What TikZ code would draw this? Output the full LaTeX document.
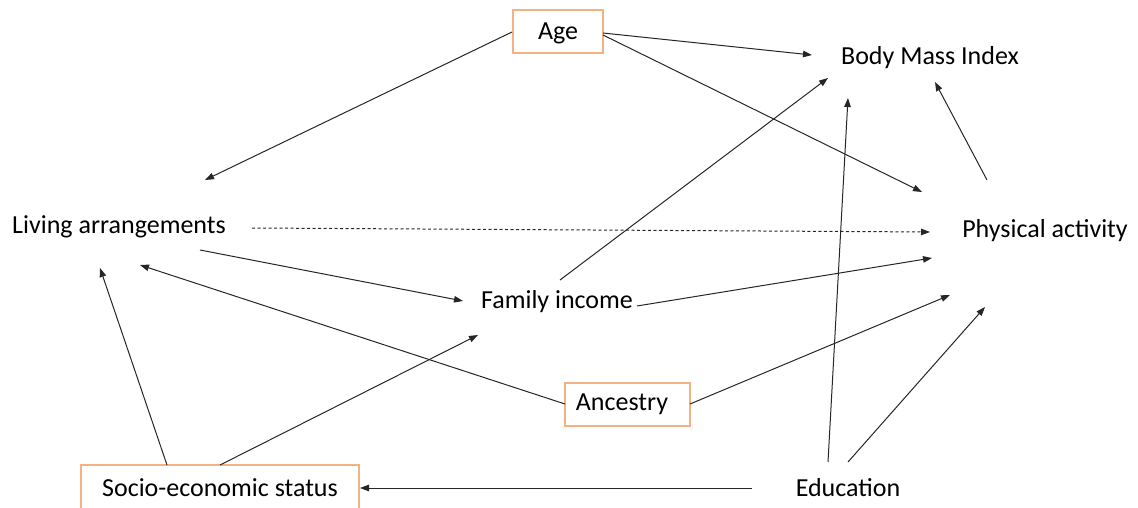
\documentclass[tikz,border=0pt]{standalone}
\usepackage{fontspec}
\setmainfont{Carlito}
\usetikzlibrary{arrows.meta}
\definecolor{peach}{HTML}{F4B183}
\begin{document}
\begin{tikzpicture}[x=1pt,y=-1pt,
  lbl/.style={font=\fontsize{26}{30}\selectfont, inner sep=0pt, anchor=center},
  obox/.style={draw=peach, line width=1.1pt},
  arr/.style={-{Triangle[length=9pt,width=6.5pt]}, line width=1pt, black!85},
]
\useasboundingbox (0,0) rectangle (1138,508);
% boxes
\draw[obox] (513,10) rectangle (603,53);
\draw[obox] (565,383) rectangle (690,426);
\draw[obox] (81,465) rectangle (359,512);
% labels
\node[lbl] (age) at (558,33) {Age};
\node[lbl] (bmi) at (930,58) {Body Mass Index};
\node[lbl] (liv) at (119,227) {Living arrangements};
\node[lbl] (pa) at (1045,231) {Physical activity};
\node[lbl] (fi) at (557,302) {Family income};
\node[lbl] (anc) at (622,404) {Ancestry};
\node[lbl] (ses) at (220,488) {Socio-economic status};
\node[lbl] (edu) at (848,488) {Education};
% connector end points
\coordinate (a1) at (603,33);   \coordinate (b1) at (812,55);
\coordinate (a2) at (603,35);   \coordinate (b2) at (922,192);
\coordinate (a3) at (512,32);   \coordinate (b3) at (205,180);
\coordinate (a4) at (252,228);  \coordinate (b4) at (930,232);
\coordinate (a5) at (200,250);  \coordinate (b5) at (463,301);
\coordinate (a6) at (560,280);  \coordinate (b6) at (828,78);
\coordinate (a7) at (637,306);  \coordinate (b7) at (932,258);
\coordinate (a8) at (565,404);  \coordinate (b8) at (140,265);
\coordinate (a9) at (690,404);  \coordinate (b9) at (950,295);
\coordinate (a10) at (167,465); \coordinate (b10) at (100,268);
\coordinate (a11) at (220,465); \coordinate (b11) at (478,335);
\coordinate (a12) at (752,488); \coordinate (b12) at (360,488);
\coordinate (a13) at (828,462); \coordinate (b13) at (848,98);
\coordinate (a14) at (848,462); \coordinate (b14) at (985,307);
\coordinate (a15) at (987,180); \coordinate (b15) at (935,82);
\draw[arr] (a1) -- (b1);
\draw[arr] (a2) -- (b2);
\draw[arr] (a3) -- (b3);
\draw[arr, dashed, dash pattern=on 3pt off 2.5pt] (a4) -- (b4);
\draw[arr] (a5) -- (b5);
\draw[arr] (a6) -- (b6);
\draw[arr] (a7) -- (b7);
\draw[arr] (a8) -- (b8);
\draw[arr] (a9) -- (b9);
\draw[arr] (a10) -- (b10);
\draw[arr] (a11) -- (b11);
\draw[arr] (a12) -- (b12);
\draw[arr] (a13) -- (b13);
\draw[arr] (a14) -- (b14);
\draw[arr] (a15) -- (b15);
\end{tikzpicture}
\end{document}
